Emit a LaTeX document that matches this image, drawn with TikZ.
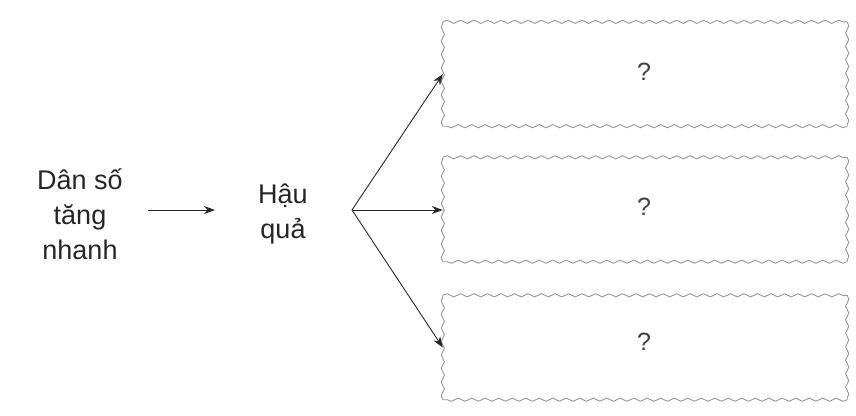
\documentclass[tikz,border=0pt]{standalone}
\usepackage{fontspec}
\setmainfont{Liberation Sans}
\usetikzlibrary{arrows.meta,decorations.pathmorphing}
\definecolor{boxgrey}{RGB}{150,150,150}
\definecolor{linegrey}{RGB}{40,40,40}
\tikzset{
  lbl/.style={align=center,inner sep=0pt,font=\fontsize{27}{35}\selectfont,text=black!85},
  qmark/.style={inner sep=0pt,font=\fontsize{25}{28}\selectfont,text=black!75},
  boxarea/.style={minimum width=404pt,minimum height=104pt,inner sep=0pt},
  wavyline/.style={draw=boxgrey,line width=0.9pt,line join=round,
     decorate,decoration={snake,segment length=13.5pt,amplitude=1.6pt}},
  arr/.style={draw=linegrey,line width=0.9pt,-{Stealth[length=11pt,width=8pt]}}
}
\newcommand{\wavyframe}[1]{%
  \draw[wavyline] (#1.north west) -- (#1.north east);
  \draw[wavyline] (#1.north east) -- (#1.south east);
  \draw[wavyline] (#1.south east) -- (#1.south west);
  \draw[wavyline] (#1.south west) -- (#1.north west);}
\begin{document}
\begin{tikzpicture}[x=1pt,y=-1pt]
\useasboundingbox (0,0) rectangle (856,415);
\node[lbl] (src) at (80,214) {Dân số\\tăng\\nhanh};
\node[lbl] (mid) at (283,214) {Hậu\\quả};
\coordinate (fork) at (352,210);
\node[boxarea] (b1) at (645,74) {};
\node[boxarea] (b2) at (645,209.5) {};
\node[boxarea] (b3) at (645,347.5) {};
\wavyframe{b1}
\wavyframe{b2}
\wavyframe{b3}
\node[qmark] (q1) at (644,72) {?};
\node[qmark] (q2) at (644,207) {?};
\node[qmark] (q3) at (644,342) {?};
\draw[arr,shorten <=25pt,shorten >=43pt] (src.east |- fork) -- (mid.west |- fork);
\draw[arr] (fork) -- (b1.west);
\draw[arr] (fork) -- (b2.west |- fork);
\draw[arr] (fork) -- (b3.west);
\end{tikzpicture}
\end{document}
